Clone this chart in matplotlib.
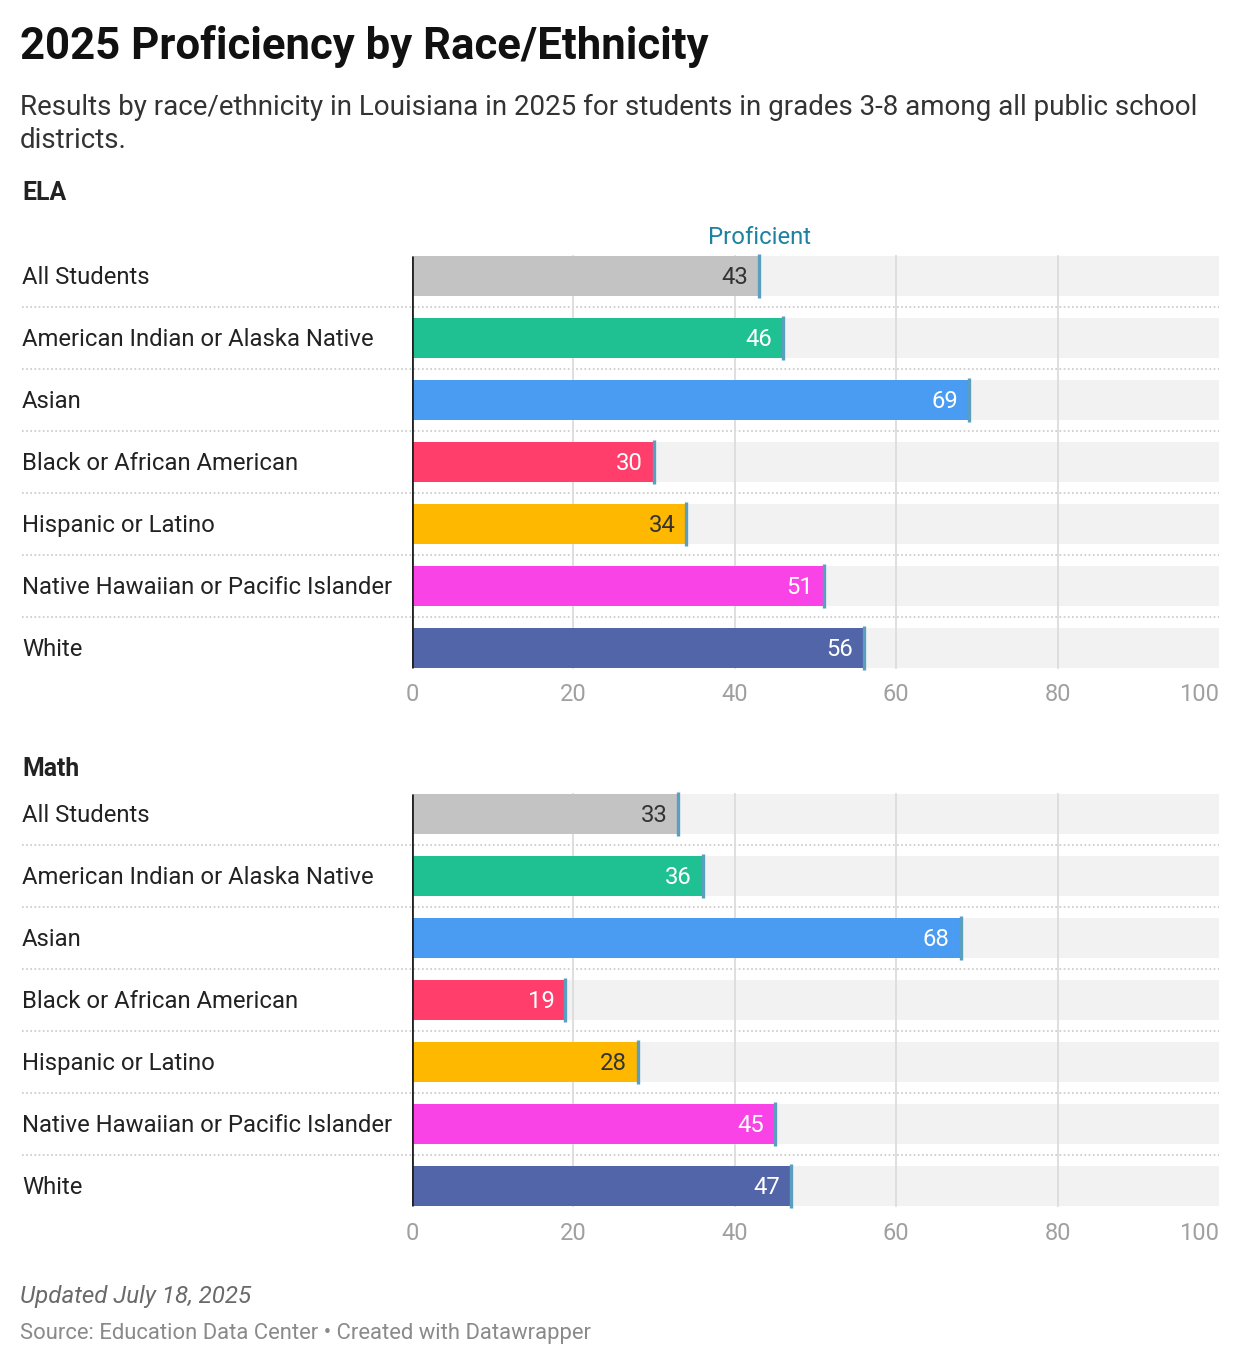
import matplotlib.pyplot as plt
from matplotlib.transforms import blended_transform_factory

plt.rcParams['font.family'] = ['Roboto', 'DejaVu Sans']

groups = ["All Students", "American Indian or Alaska Native", "Asian",
          "Black or African American", "Hispanic or Latino",
          "Native Hawaiian or Pacific Islander", "White"]
ela = [43, 46, 69, 30, 34, 51, 56]
math = [33, 36, 68, 19, 28, 45, 47]
colors = ["#c3c3c3", "#1fc092", "#4a9bf2", "#ff3e6c", "#ffb800", "#fa43e6", "#5165a8"]
text_colors = ["#333333", "white", "white", "white", "#333333", "white", "white"]
ticks = [0, 20, 40, 60, 80, 100]

W, H = 1240, 1366
fig = plt.figure(figsize=(W/100, H/100), dpi=100)


def fx(px):
    return px / W


def fy(py):
    return 1 - py / H


def panel(top_px, values):
    n = len(values)
    row = 62
    ax = fig.add_axes([fx(412), fy(top_px + n*row), fx(1219) - fx(412), n*row/H])
    ax.set_xlim(0, 100)
    ax.set_ylim(n - 0.5, -0.5)
    ax.axis('off')
    bh = 40/62
    ys = list(range(n))
    # background bars
    ax.barh(ys, [100]*n, height=bh, color="#f2f2f2", zorder=1)
    # grid lines
    for t in ticks[1:-1]:
        ax.plot([t, t], [-bh/2, n - 1 + bh/2], color="#dcdcdc", lw=1.3, zorder=2)
    ax.barh(ys, values, height=bh, color=colors, zorder=3)
    ax.plot([0, 0], [-bh/2, n - 1 + bh/2], color="#222222", lw=2, zorder=5, solid_capstyle='butt')
    tr = blended_transform_factory(fig.transFigure, ax.transData)
    off = 1.5/62
    for i, (g, v) in enumerate(zip(groups, values)):
        ax.plot([v, v], [i - 22/62, i + 22/62], color="#5a9fc0", lw=2.4, zorder=4,
                solid_capstyle='butt')
        ax.text(v - 1.35, i + off, str(v), ha='right', va='center', fontsize=17.2,
                color=text_colors[i], zorder=6)
        ax.text(fx(22), i + off, g, transform=tr, ha='left', va='center', fontsize=17.2,
                color="#222222")
        if i < n - 1:
            ax.plot([fx(22), fx(1219)], [i + 0.5, i + 0.5], transform=tr, clip_on=False,
                    color="#c8c8c8", lw=1.2, ls=(0, (1, 1.5)), zorder=0)
    trt = blended_transform_factory(ax.transData, fig.transFigure)
    ybot = top_px + n*row
    for t in ticks:
        ax.text(t, fy(ybot + 16), str(t), transform=trt, ha='right' if t == 100 else 'center',
                va='center', fontsize=17, color="#a0a0a0")
    return ax


ax1 = panel(245, ela)
ax2 = panel(783, math)

ax1.text(ela[0], fy(237), "Proficient", transform=blended_transform_factory(ax1.transData, fig.transFigure),
         ha='center', va='center', fontsize=17.2, color="#1d81a2")

fig.text(fx(20), fy(46), "2025 Proficiency by Race/Ethnicity", fontsize=31.5, fontweight='bold',
         va='center', ha='left', color="#111111")
fig.text(fx(20), fy(107), "Results by race/ethnicity in Louisiana in 2025 for students in grades 3-8 among all public school",
         fontsize=20, va='center', ha='left', color="#333333")
fig.text(fx(20), fy(141), "districts.", fontsize=20, va='center', ha='left', color="#333333")
fig.text(fx(22), fy(193), "ELA", fontsize=17.8, fontweight='bold', va='center', color="#222222")
fig.text(fx(22), fy(769), "Math", fontsize=17.8, fontweight='bold', va='center', color="#222222")
fig.text(fx(20), fy(1297), "Updated July 18, 2025", fontsize=17.4, style='italic', va='center',
         color="#6a6a6a")
fig.text(fx(20), fy(1333), "Source: Education Data Center \u2022 Created with Datawrapper", fontsize=15.8,
         va='center', color="#8a8a8a")

fig.savefig("out.png", dpi=100, facecolor='white')
